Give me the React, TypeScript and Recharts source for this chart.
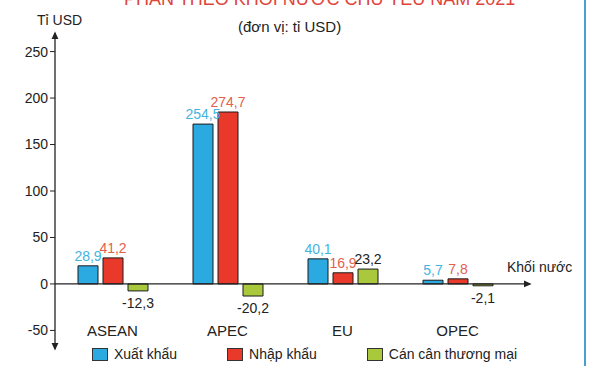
import React from "react"
import { BarChart, Bar, XAxis, YAxis, ReferenceLine, LabelList } from "recharts"

// categories and values
const blocs = ["ASEAN", "APEC", "EU", "OPEC"]
// printed values (tỉ USD)
const exportLabels = ["28,9", "254,5", "40,1", "5,7"]
const importLabels = ["41,2", "274,7", "16,9", "7,8"]
const balanceLabels = ["-12,3", "-20,2", "23,2", "-2,1"]
// bar heights as drawn in the picture (the source is not to scale)
const exportDrawn = [19.5, 172, 27, 4]
const importDrawn = [28, 185, 12, 5.5]
const balanceDrawn = [-7.5, -13, 16, -2]
const yTicks = [-50, 0, 50, 100, 150, 200, 250]

const seriesNames = ["Xuất khẩu", "Nhập khẩu", "Cán cân thương mại"]
const barColors = ["#2ba9e1", "#e8392b", "#a9c83c"]
const labelColors = ["#45b4df", "#e2604c", "#222"]

const data = blocs.map((name, i) => ({
  name,
  exp: exportDrawn[i],
  imp: importDrawn[i],
  bal: balanceDrawn[i],
  expLabel: exportLabels[i],
  impLabel: importLabels[i],
  balLabel: balanceLabels[i],
}))

const font = "'Liberation Sans', Arial, sans-serif"

const makeLabel = (color: string) => (props: any) => {
  const { x, y, width, height, value } = props
  const top = Math.min(y, y + height)
  const bottom = Math.max(y, y + height)
  const neg = String(value).startsWith("-")
  return (
    <text
      x={x + width / 2}
      y={neg ? bottom + 17 : top - 5}
      textAnchor="middle"
      fill={color}
      fontSize={14}
      fontFamily={font}
    >
      {value}
    </text>
  )
}

export default function App() {
  return (
    <div style={{ position: "fixed", left: 0, top: 0, width: 593, height: 366, background: "#fff", fontFamily: font, overflow: "hidden" }}>
      {/* arrowhead marker shared by both axes */}
      <svg width={0} height={0} style={{ position: "absolute" }}>
        <defs>
          <marker id="arrow" viewBox="0 0 10 10" refX="8" refY="5" markerWidth="8" markerHeight="8" orient="auto-start-reverse" markerUnits="userSpaceOnUse">
            <path d="M0,0.5 L10,5 L0,9.5 z" fill="#222" />
          </marker>
        </defs>
      </svg>
      <BarChart
        width={593}
        height={366}
        data={data}
        margin={{ top: 33, right: 63, bottom: 0, left: 0 }}
        barSize={20}
        barGap={5}
      >
        <XAxis
          dataKey="name"
          height={17}
          axisLine={false}
          tickLine={false}
          padding={{ left: 0, right: 15 }}
          tick={{ fill: "#222", fontSize: 15, fontFamily: font, dy: -32 }}
        />
        <YAxis
          width={55}
          domain={[-70, 270]}
          ticks={yTicks}
          allowDataOverflow
          axisLine={{ stroke: "#222", strokeWidth: 1.3, markerStart: "url(#arrow)", markerEnd: "url(#arrow)" }}
          tickLine={{ stroke: "#222" }}
          tickSize={5}
          tickMargin={2}
          tick={{ fill: "#222", fontSize: 14, fontFamily: font }}
        />
        <ReferenceLine y={0} stroke="#222" strokeWidth={1.3} markerEnd="url(#arrow)" />
        <Bar dataKey="exp" fill={barColors[0]} stroke="#1b1b1b" strokeWidth={1} isAnimationActive={false}>
          <LabelList dataKey="expLabel" content={makeLabel(labelColors[0])} />
        </Bar>
        <Bar dataKey="imp" fill={barColors[1]} stroke="#1b1b1b" strokeWidth={1} isAnimationActive={false}>
          <LabelList dataKey="impLabel" content={makeLabel(labelColors[1])} />
        </Bar>
        <Bar dataKey="bal" fill={barColors[2]} stroke="#1b1b1b" strokeWidth={1} isAnimationActive={false}>
          <LabelList dataKey="balLabel" content={makeLabel(labelColors[2])} />
        </Bar>
      </BarChart>

      <div style={{ position: "absolute", left: 124, top: -11, fontSize: 18, color: "#e0443a", whiteSpace: "nowrap" }}>
        PHÂN THEO KHỐI NƯỚC CHỦ YẾU NĂM 2021
      </div>
      <div style={{ position: "absolute", left: 238, top: 18, fontSize: 15, color: "#222" }}>(đơn vị: tỉ USD)</div>
      <div style={{ position: "absolute", left: 37, top: 12, fontSize: 14, color: "#222" }}>Tỉ USD</div>
      <div style={{ position: "absolute", left: 507, top: 259, fontSize: 14, color: "#222" }}>Khối nước</div>
      <div style={{ position: "absolute", left: 584, top: 0, width: 2, height: 366, background: "#4a9fd0" }} />

      <div style={{ position: "absolute", left: 92, top: 346, display: "flex", gap: 50, fontSize: 14, color: "#222" }}>
        {seriesNames.map((s, i) => (
          <div key={s} style={{ display: "flex", alignItems: "center", gap: 6 }}>
            <span style={{ width: 14, height: 11, background: barColors[i], border: "1px solid #333", display: "inline-block" }} />
            <span>{s}</span>
          </div>
        ))}
      </div>
    </div>
  )
}
